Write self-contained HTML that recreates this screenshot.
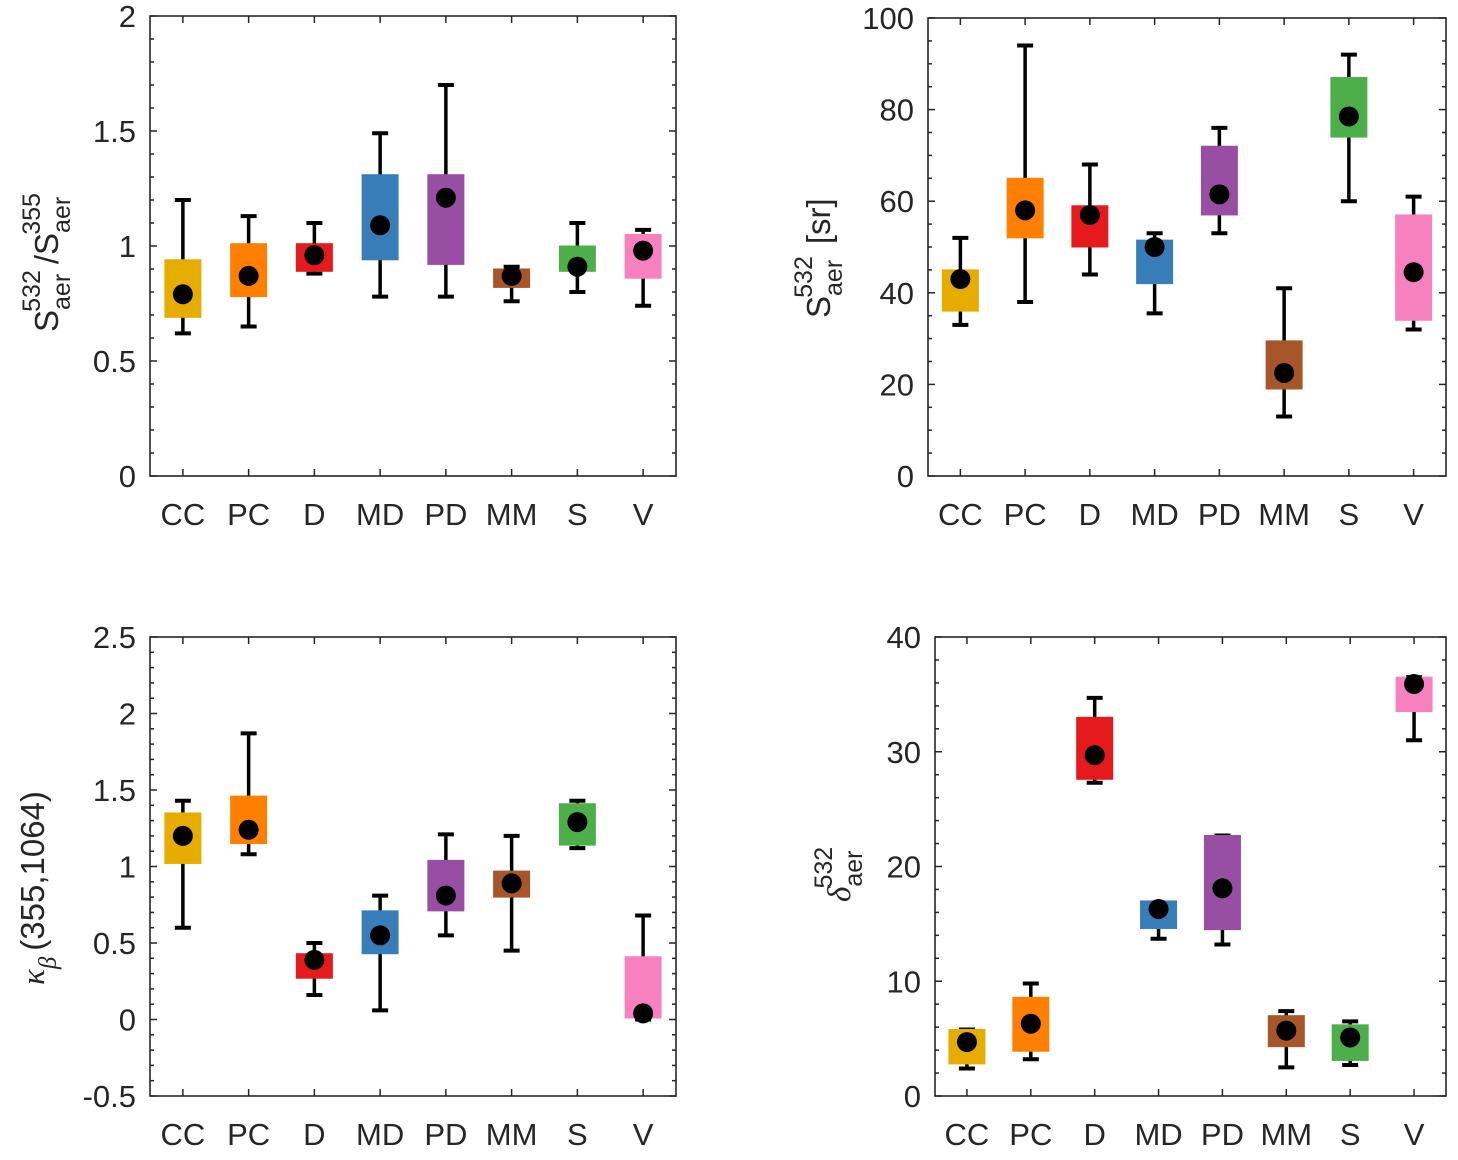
<!DOCTYPE html>
<html><head><meta charset="utf-8">
<style>
html,body{margin:0;padding:0;background:#fff;width:1458px;height:1160px;overflow:hidden;}
svg text{font-family:"Liberation Sans",Arial,sans-serif;fill:#262626;}
</style></head>
<body>
<svg id="chart" width="1458" height="1160" viewBox="0 0 1458 1160" xmlns="http://www.w3.org/2000/svg" style="position:absolute;left:0;top:0">
 <g font-family="Liberation Sans, Arial, sans-serif" fill="#262626">
  <text transform="translate(58,332) rotate(-90)" font-size="33">S<tspan font-size="25" dy="12">aer</tspan><tspan font-size="25" dx="-38" dy="-30">532</tspan><tspan font-size="33" dy="18" dx="6">/S</tspan><tspan font-size="25" dy="12">aer</tspan><tspan font-size="25" dx="-38" dy="-30">355</tspan></text>
  <text transform="translate(830,318) rotate(-90)" font-size="33">S<tspan font-size="25" dy="12">aer</tspan><tspan font-size="25" dx="-38" dy="-30">532</tspan><tspan font-size="33" dy="18" dx="12">[sr]</tspan></text>
  <text transform="translate(44,985) rotate(-90)" font-size="33"><tspan font-family="Liberation Serif, serif" font-style="italic">κ</tspan><tspan font-family="Liberation Serif, serif" font-style="italic" font-size="25" dy="12">β</tspan><tspan dy="-12" dx="6">(355,1064)</tspan></text>
  <text transform="translate(850,902) rotate(-90)" font-size="33"><tspan font-family="Liberation Serif, serif" font-style="italic">δ</tspan><tspan font-size="25" dy="12">aer</tspan><tspan font-size="25" dx="-38" dy="-30">532</tspan></text>
 </g>
</svg>
<script>
const categories = ["CC","PC","D","MD","PD","MM","S","V"];
const colors = ["#E6AC00","#FF8000","#E41A1C","#377EB8","#984EA3","#A65628","#4DAF4A","#F781BF"];

// Panel 1: S532/S355 ratio
const p1WhiskLow  = [0.62,0.65,0.88,0.78,0.78,0.76,0.80,0.74];
const p1WhiskHigh = [1.20,1.13,1.10,1.49,1.70,0.91,1.10,1.07];
const p1BoxLow    = [0.69,0.78,0.89,0.94,0.92,0.82,0.89,0.86];
const p1BoxHigh   = [0.94,1.01,1.01,1.31,1.31,0.90,1.00,1.05];
const p1Mean      = [0.79,0.87,0.96,1.09,1.21,0.87,0.91,0.98];
const p1Ticks     = [0,0.5,1,1.5,2];

// Panel 2: lidar ratio 532
const p2WhiskLow  = [33,38,44,35.5,53,13,60,32];
const p2WhiskHigh = [52,94,68,53,76,41,92,61];
const p2BoxLow    = [36,52,50,42,57,19,74,34];
const p2BoxHigh   = [45,65,59,51.5,72,29.5,87,57];
const p2Mean      = [43,58,57,50,61.5,22.5,78.5,44.5];
const p2Ticks     = [0,20,40,60,80,100];

// Panel 3: kappa beta
const p3WhiskLow  = [0.60,1.08,0.16,0.06,0.55,0.45,1.12,0.00];
const p3WhiskHigh = [1.43,1.87,0.50,0.81,1.21,1.20,1.43,0.68];
const p3BoxLow    = [1.02,1.15,0.27,0.43,0.71,0.80,1.14,0.01];
const p3BoxHigh   = [1.35,1.46,0.43,0.71,1.04,0.97,1.41,0.41];
const p3Mean      = [1.20,1.24,0.39,0.55,0.81,0.89,1.29,0.04];
const p3Ticks     = [-0.5,0,0.5,1,1.5,2,2.5];

// Panel 4: depolarization
const p4WhiskLow  = [2.4,3.2,27.3,13.7,13.2,2.5,2.7,31];
const p4WhiskHigh = [5.8,9.8,34.7,16.6,22.7,7.4,6.5,36.5];
const p4BoxLow    = [2.8,3.9,27.6,14.6,14.5,4.3,3.1,33.5];
const p4BoxHigh   = [5.8,8.6,33.0,17.0,22.7,7.0,6.2,36.5];
const p4Mean      = [4.7,6.3,29.7,16.3,18.1,5.7,5.1,35.9];
const p4Ticks     = [0,10,20,30,40];

const svg = document.getElementById('chart');
const NS = "http://www.w3.org/2000/svg";
function mk(tag, attrs, parent){
  const e = document.createElementNS(NS, tag);
  for (const k in attrs) e.setAttribute(k, attrs[k]);
  (parent||svg).appendChild(e);
  return e;
}

function panel(id, L, R, T, B, ymin, ymax, ticks, minorStep, wl, wh, bl, bh, mn){
  const g = mk('g', {});
  
  
  const y = v => B - (v - ymin) / (ymax - ymin) * (B - T);
  const step = (R - L) / categories.length;
  const x = i => L + step * (i + 0.5);
  const ax = '#262626';
  const fr = mk('rect', {x:L, y:T, width:R-L, height:B-T, fill:'none', stroke:ax, 'stroke-width':1.6}, g);
  
  
  const nMinor = Math.round((ymax - ymin) / minorStep);
  for (let k = 0; k <= nMinor; k++){
    const v = ymin + k * minorStep;
    const yy = y(v);
    const major = ticks.some(t => Math.abs(t - v) < 1e-6);
    const len = major ? 7 : 4;
    mk('line', {x1:L, x2:L+len, y1:yy, y2:yy, stroke:ax, 'stroke-width':1.5}, g);
    mk('line', {x1:R, x2:R-len, y1:yy, y2:yy, stroke:ax, 'stroke-width':1.5}, g);
  }
  ticks.forEach(t => {
    const tx = mk('text', {x:L-14, y:y(t)+11, 'text-anchor':'end', 'font-size':31}, g);
    tx.textContent = String(t);
    
    
  });
  categories.forEach((c, i) => {
    const xx = x(i);
    mk('line', {x1:xx, x2:xx, y1:B, y2:B-7, stroke:ax, 'stroke-width':1.5}, g);
    mk('line', {x1:xx, x2:xx, y1:T, y2:T+7, stroke:ax, 'stroke-width':1.5}, g);
    const tx = mk('text', {x:xx, y:B+49, 'text-anchor':'middle', 'font-size':31}, g);
    tx.textContent = c;
    
    
  });
  categories.forEach((c, i) => {
    const xx = x(i);
    const bw = 36, cw = 16;
    const grp = mk('g', {}, g);
    
    
    mk('line', {x1:xx, x2:xx, y1:y(wl[i]), y2:y(wh[i]), stroke:'#000', 'stroke-width':3.5}, grp);
    mk('line', {x1:xx-cw/2, x2:xx+cw/2, y1:y(wl[i]), y2:y(wl[i]), stroke:'#000', 'stroke-width':4}, grp);
    mk('line', {x1:xx-cw/2, x2:xx+cw/2, y1:y(wh[i]), y2:y(wh[i]), stroke:'#000', 'stroke-width':4}, grp);
    mk('rect', {x:xx-bw/2, y:y(bh[i]), width:bw, height:y(bl[i])-y(bh[i]), fill:colors[i], stroke:colors[i], 'stroke-width':1}, grp);
    mk('circle', {cx:xx, cy:y(mn[i]), r:10, fill:'#000'}, grp);
  });
  return g;
}

panel('panel-ratio', 150, 676, 16, 476, 0, 2, p1Ticks, 0.1, p1WhiskLow, p1WhiskHigh, p1BoxLow, p1BoxHigh, p1Mean);
panel('panel-lidar-ratio', 928, 1446, 18, 476, 0, 100, p2Ticks, 5, p2WhiskLow, p2WhiskHigh, p2BoxLow, p2BoxHigh, p2Mean);
panel('panel-kappa', 150, 676, 637, 1096, -0.5, 2.5, p3Ticks, 0.1, p3WhiskLow, p3WhiskHigh, p3BoxLow, p3BoxHigh, p3Mean);
panel('panel-depol', 935, 1446, 637, 1096, 0, 40, p4Ticks, 2, p4WhiskLow, p4WhiskHigh, p4BoxLow, p4BoxHigh, p4Mean);
</script>
</body></html>
